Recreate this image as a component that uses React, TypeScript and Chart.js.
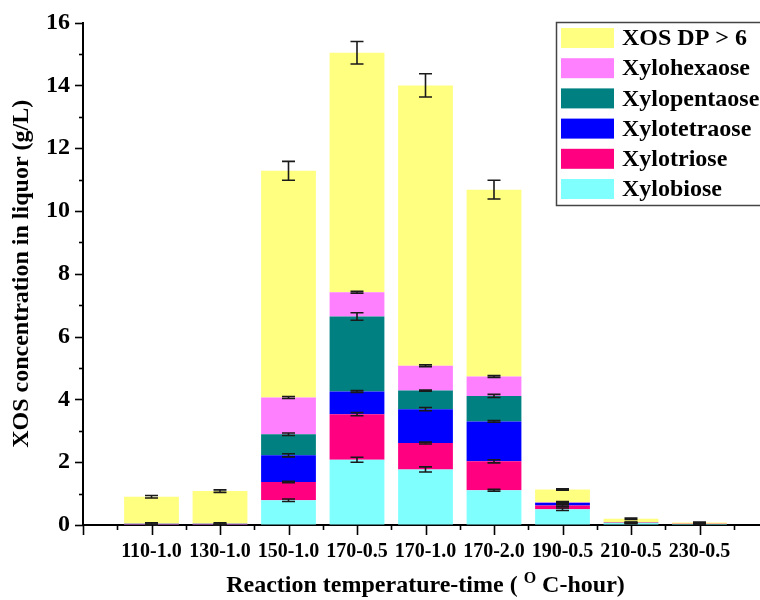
import React, { useEffect, useRef } from 'react';
import { Chart, registerables } from 'chart.js';

Chart.register(...registerables);

const categories = ['110-1.0', '130-1.0', '150-1.0', '170-0.5', '170-1.0', '170-2.0', '190-0.5', '210-0.5', '230-0.5'];

const xylobiose = [0.01, 0.01, 0.79, 2.08, 1.77, 1.11, 0.5, 0.06, 0.03];
const xylotriose = [0.01, 0.01, 0.58, 1.45, 0.84, 0.92, 0.12, 0.01, 0.01];
const xylotetraose = [0.02, 0.02, 0.85, 0.72, 1.08, 1.27, 0.08, 0.01, 0.0];
const xylopentaose = [0, 0, 0.67, 2.39, 0.59, 0.81, 0.01, 0, 0];
const xylohexaose = [0, 0, 1.17, 0.77, 0.79, 0.62, 0.02, 0, 0];
const xosDP6 = [0.86, 1.04, 7.22, 7.63, 8.93, 5.95, 0.4, 0.12, 0.04];

const errXylobiose = [0.01, 0.01, 0.04, 0.08, 0.08, 0.03, 0.04, 0.02, 0.01];
const errXylotriose = [0.01, 0.01, 0.02, 0.05, 0.03, 0.05, 0.03, 0.01, 0];
const errXylotetraose = [0.03, 0.03, 0.05, 0.03, 0.05, 0.03, 0.03, 0.01, 0.01];
const errXylopentaose = [0, 0, 0.04, 0.12, 0.02, 0.05, 0.02, 0, 0];
const errXylohexaose = [0, 0, 0.03, 0.03, 0.03, 0.03, 0.02, 0, 0];
const errDP6 = [0.04, 0.04, 0.3, 0.36, 0.37, 0.3, 0.02, 0.02, 0.01];

const yTicks = [0, 2, 4, 6, 8, 10, 12, 14, 16];

const FONT = '"Liberation Serif", "Times New Roman", serif';

const series = [
  { label: 'Xylobiose', data: xylobiose, err: errXylobiose, color: '#80FFFF' },
  { label: 'Xylotriose', data: xylotriose, err: errXylotriose, color: '#FF0080' },
  { label: 'Xylotetraose', data: xylotetraose, err: errXylotetraose, color: '#0000FF' },
  { label: 'Xylopentaose', data: xylopentaose, err: errXylopentaose, color: '#008080' },
  { label: 'Xylohexaose', data: xylohexaose, err: errXylohexaose, color: '#FF80FF' },
  { label: 'XOS DP > 6', data: xosDP6, err: errDP6, color: '#FFFF80' },
];

export default function App() {
  const ref = useRef<HTMLCanvasElement>(null);

  useEffect(() => {
    if (!ref.current) return;
    const labels = ['', ...categories, ''];
    const padData = (a: number[]) => [null, ...a, null];

    const errorPlugin = {
      id: 'errbars',
      afterDatasetsDraw(chart: any) {
        const ctx = chart.ctx;
        const ys = chart.scales.y;
        ctx.save();
        ctx.strokeStyle = '#1a1a1a';
        ctx.lineWidth = 1.6;
        const cum = categories.map(() => 0);
        series.forEach((s, d) => {
          const meta = chart.getDatasetMeta(d);
          categories.forEach((_, i) => {
            cum[i] += s.data[i];
            const e = s.err[i];
            if (s.data[i] === 0 && e === 0) return;
            const bar = meta.data[i + 1];
            if (!bar) return;
            const x = bar.x;
            const yTop = ys.getPixelForValue(cum[i] + e);
            const yBot = ys.getPixelForValue(cum[i] - e);
            const hw = 6.5;
            ctx.beginPath();
            ctx.moveTo(x, yTop);
            ctx.lineTo(x, yBot);
            ctx.moveTo(x - hw, yTop);
            ctx.lineTo(x + hw, yTop);
            ctx.moveTo(x - hw, yBot);
            ctx.lineTo(x + hw, yBot);
            ctx.stroke();
          });
        });
        ctx.restore();
      },
    };

    const decoPlugin = {
      id: 'deco',
      afterDraw(chart: any) {
        const ctx = chart.ctx;
        const xs = chart.scales.x;
        const ys = chart.scales.y;
        const area = chart.chartArea;
        ctx.save();
        ctx.strokeStyle = '#000';
        ctx.lineWidth = 1.6;
        // y ticks
        for (let v = 0; v <= 16; v += 1) {
          const py = Math.round(ys.getPixelForValue(v)) + 0.5;
          const len = v % 2 === 0 ? 8 : 4;
          ctx.beginPath();
          ctx.moveTo(area.left, py);
          ctx.lineTo(area.left - len, py);
          ctx.stroke();
        }
        // x ticks
        for (let i = 0; i < labels.length; i++) {
          const px = Math.round(xs.getPixelForValue(i)) + 0.5;
          ctx.beginPath();
          ctx.moveTo(px, area.bottom);
          ctx.lineTo(px, area.bottom + 10);
          ctx.stroke();
          if (i < labels.length - 1) {
            const mx = Math.round((xs.getPixelForValue(i) + xs.getPixelForValue(i + 1)) / 2) + 0.5;
            ctx.beginPath();
            ctx.moveTo(mx, area.bottom);
            ctx.lineTo(mx, area.bottom + 5);
            ctx.stroke();
          }
        }
        // x title with superscript
        const mainFont = `bold 24px ${FONT}`;
        const supFont = `bold 16px ${FONT}`;
        const p1 = 'Reaction temperature-time ( ';
        const p2 = 'O';
        const p3 = ' C-hour)';
        ctx.font = mainFont;
        const w1 = ctx.measureText(p1).width;
        const w3 = ctx.measureText(p3).width;
        ctx.font = supFont;
        const w2 = ctx.measureText(p2).width;
        const total = w1 + w2 + w3;
        const cx = (area.left + area.right) / 2;
        let sx = cx - total / 2;
        const ty = 592;
        ctx.fillStyle = '#000';
        ctx.textBaseline = 'alphabetic';
        ctx.textAlign = 'left';
        ctx.font = mainFont;
        ctx.fillText(p1, sx, ty);
        sx += w1;
        ctx.font = supFont;
        ctx.fillText(p2, sx, ty - 9);
        sx += w2;
        ctx.font = mainFont;
        ctx.fillText(p3, sx, ty);

        // legend
        const lx = 556, ly = 22, lw = 230, lh = 183;
        ctx.fillStyle = '#fff';
        ctx.fillRect(lx, ly, lw, lh);
        ctx.strokeStyle = '#444';
        ctx.lineWidth = 1.5;
        ctx.strokeRect(lx + 0.5, ly + 0.5, lw, lh);
        const items = [...series].reverse();
        ctx.font = `bold 24px ${FONT}`;
        ctx.textBaseline = 'middle';
        items.forEach((s, k) => {
          const cy = 38 + k * 30.2;
          ctx.fillStyle = s.color;
          ctx.fillRect(561, cy - 10, 53, 20);
          ctx.fillStyle = '#000';
          ctx.fillText(s.label, 622, cy + 1);
        });
        ctx.restore();
      },
    };

    const chart = new Chart(ref.current, {
      type: 'bar',
      data: {
        labels,
        datasets: series.map((s) => ({
          label: s.label,
          data: padData(s.data),
          backgroundColor: s.color,
          borderWidth: 0,
          barPercentage: 1,
          categoryPercentage: 0.8,
        })),
      },
      options: {
        animation: false,
        responsive: false,
        devicePixelRatio: 1,
        layout: { padding: { top: 20, right: 22, left: 0, bottom: 0 } },
        plugins: {
          legend: { display: false },
          tooltip: { enabled: false },
        },
        scales: {
          x: {
            type: 'category',
            stacked: true,
            offset: false,
            grid: { display: true, drawOnChartArea: false, drawTicks: false },
            border: { display: true, color: '#000', width: 2 },
            ticks: {
              color: '#000',
              font: { family: FONT, size: 20, weight: 'bold' },
              padding: 15,
              maxRotation: 0,
              autoSkip: false,
            },
            afterFit(scale: any) {
              scale.height = 75;
            },
          },
          y: {
            type: 'linear',
            stacked: true,
            min: 0,
            max: 16,
            afterBuildTicks(scale: any) {
              scale.ticks = yTicks.map((v) => ({ value: v }));
            },
            grid: { display: true, drawOnChartArea: false, drawTicks: false },
            border: { display: true, color: '#000', width: 2 },
            ticks: {
              color: '#000',
              font: { family: FONT, size: 24, weight: 'bold', lineHeight: 0.8 },
              padding: 13,
            },
            title: {
              display: true,
              text: 'XOS concentration in liquor (g/L)',
              color: '#000',
              font: { family: FONT, size: 24, weight: 'bold' },
              padding: { top: 7, bottom: 0 },
            },
            afterFit(scale: any) {
              scale.width = 83;
            },
          },
        },
      },
      plugins: [errorPlugin, decoPlugin],
    });
    return () => chart.destroy();
  }, []);

  return (
    <div style={{ position: 'fixed', left: 0, top: 0, width: 760, height: 600, overflow: 'hidden', background: '#fff' }}>
      <canvas ref={ref} width={790} height={600} style={{ display: 'block', width: 790, height: 600 }} />
    </div>
  );
}
